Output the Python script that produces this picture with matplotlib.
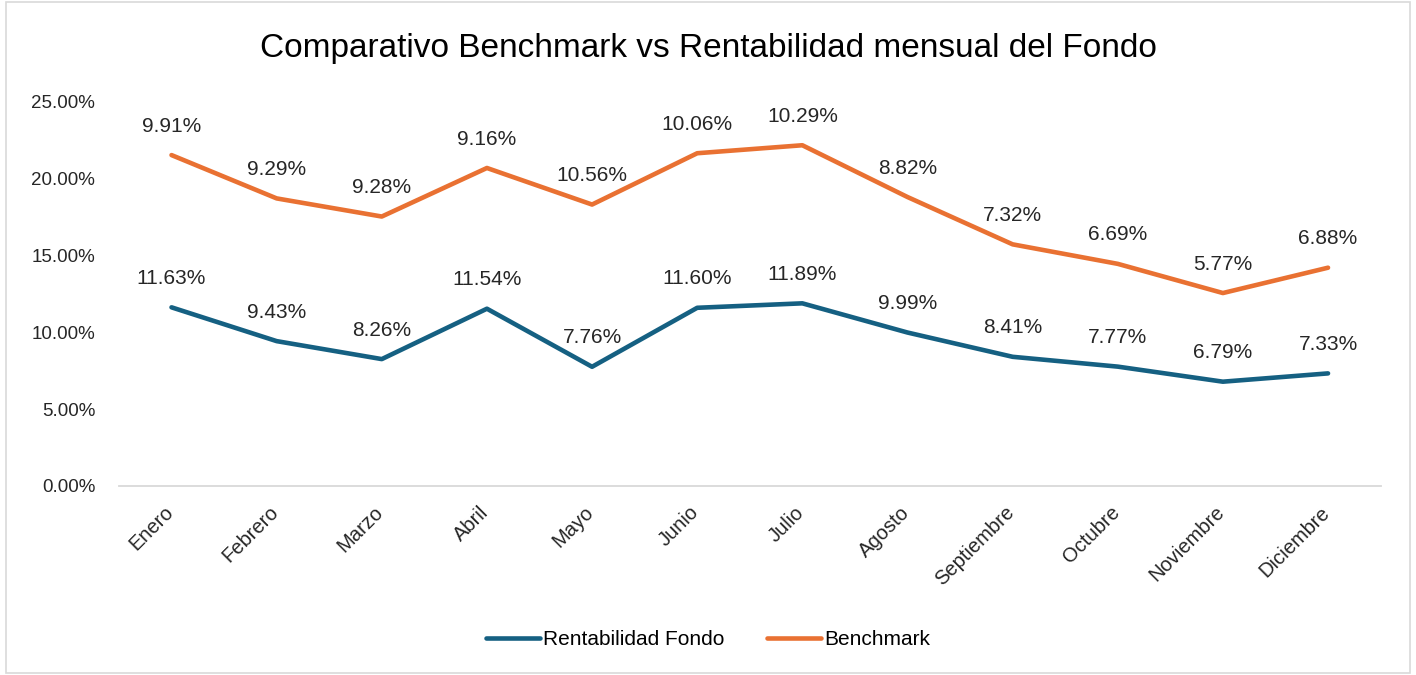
import matplotlib
matplotlib.use('Agg')
import matplotlib.pyplot as plt
import matplotlib.transforms as mtransforms
import numpy as np
from matplotlib.patches import Rectangle
from matplotlib.ticker import FuncFormatter

meses = ['Enero', 'Febrero', 'Marzo', 'Abril', 'Mayo', 'Junio', 'Julio',
         'Agosto', 'Septiembre', 'Octubre', 'Noviembre', 'Diciembre']
fondo = [11.63, 9.43, 8.26, 11.54, 7.76, 11.60, 11.89, 9.99, 8.41, 7.77, 6.79, 7.33]
benchmark = [9.91, 9.29, 9.28, 9.16, 10.56, 10.06, 10.29, 8.82, 7.32, 6.69, 5.77, 6.88]

plt.rcParams['font.family'] = ['Liberation Sans', 'DejaVu Sans']

azul = '#156082'
naranja = '#E97132'

fig = plt.figure(figsize=(14.16, 6.75), dpi=100)
ax = fig.add_axes([0.084, 0.28, 0.891, 0.569])

x = np.arange(len(meses))
fondo = np.array(fondo)
# stacked line: benchmark sits on top of the fund
stack = fondo + np.array(benchmark)

ax.plot(x, fondo, color=azul, lw=3.3, solid_capstyle='round', label='Rentabilidad Fondo')
ax.plot(x, stack, color=naranja, lw=3.3, solid_capstyle='round', label='Benchmark')

for xi, yi, v in zip(x, fondo, fondo):
    ax.annotate(f'{v:.2f}%', xy=(xi, yi), xytext=(0, 14), textcoords='offset points',
                ha='center', va='bottom', fontsize=15, color='#262626')
for xi, yi, v in zip(x, stack, benchmark):
    ax.annotate(f'{v:.2f}%', xy=(xi, yi), xytext=(0, 14), textcoords='offset points',
                ha='center', va='bottom', fontsize=15, color='#262626')

ax.set_xlim(-0.5, len(meses) - 0.5)
ax.set_ylim(0, 25)
ax.set_yticks(np.arange(0, 26, 5))
ax.yaxis.set_major_formatter(FuncFormatter(lambda v, p: f'{v:.2f}%'))
ax.set_xticks(x)
ax.set_xticklabels(meses, rotation=45, ha='right', rotation_mode='anchor')
ax.tick_params(axis='y', length=0, pad=17, labelsize=13.5, labelcolor='#262626')
ax.tick_params(axis='x', length=0, pad=12, labelsize=14.5, labelcolor='#262626')

# nudge month labels a bit to the left, like Excel does
shift = mtransforms.ScaledTranslation(-8 / 100, 0, fig.dpi_scale_trans)
for lbl in ax.get_xticklabels():
    lbl.set_transform(lbl.get_transform() + shift)

for s in ['top', 'right', 'left']:
    ax.spines[s].set_visible(False)
ax.spines['bottom'].set_color('#d9d9d9')
ax.spines['bottom'].set_linewidth(1.3)

fig.text(0.5, 0.928, 'Comparativo Benchmark vs Rentabilidad mensual del Fondo',
         ha='center', va='center', fontsize=24, color='#000000')

fig.legend(loc='center', bbox_to_anchor=(0.5, 0.052), ncol=2, frameon=False,
           fontsize=15, handlelength=2.6, columnspacing=2.0, handletextpad=0.15)

fig.patches.append(Rectangle((0.004, 0.003), 0.992, 0.994, transform=fig.transFigure,
                             fill=False, edgecolor='#d9d9d9', lw=1.2))

fig.savefig('out.png', dpi=100)
